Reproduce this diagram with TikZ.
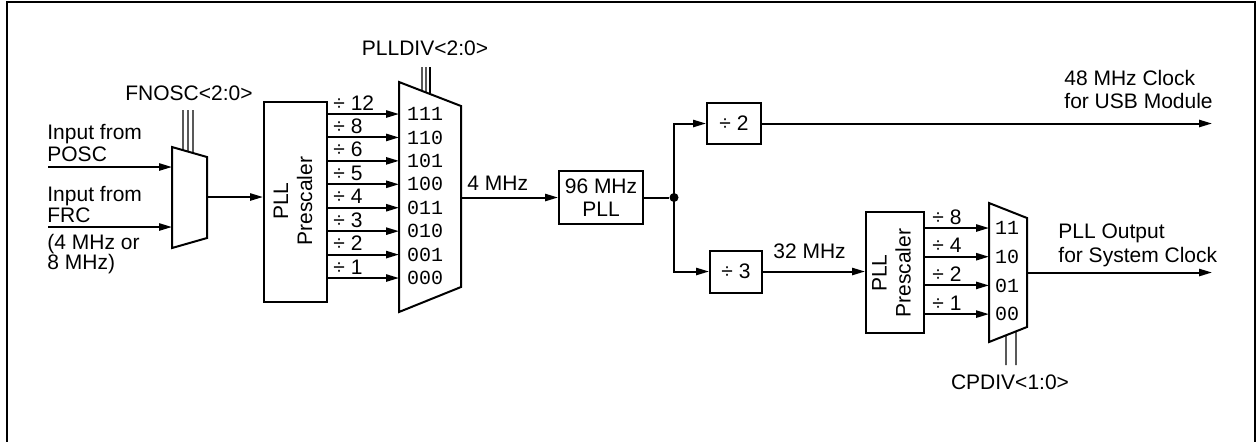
\documentclass[tikz,border=0pt]{standalone}
\usepackage{fontspec}
\setmainfont{Liberation Sans}
\setmonofont{Liberation Mono}
\usetikzlibrary{arrows.meta,positioning,calc}

\tikzset{
  every picture/.style={line join=miter},
  frame/.style={line width=1pt},
  blk/.style={draw,line width=1pt,inner sep=0pt,align=center,
    font=\fontsize{10.5}{11.5}\selectfont},
  mux/.style={draw,line width=1pt},
  sig/.style={-{Triangle[length=6.5pt,width=3.6pt]},line width=1pt},
  wire/.style={line width=1pt},
  selbus/.style={line width=.55pt},
  lab/.style={font=\fontsize{10.5}{11.5}\selectfont,inner sep=0pt},
  bits/.style={font=\ttfamily\fontsize{10}{10}\selectfont,inner sep=0pt},
  vlab/.style={font=\fontsize{10.5}{12}\selectfont,rotate=90,align=center,
    inner sep=0pt},
  joint/.style={circle,fill,inner sep=0pt,minimum size=4.5pt}
}

\begin{document}
\begin{tikzpicture}[x=.5pt,y=-.5pt]
  \useasboundingbox (0,0) rectangle (1256,441);
  \draw[frame] (7,445) -- (7,2) -- (1254.5,2) -- (1254.5,445);

  % Oscillator inputs and the FNOSC select mux.
  \node[lab,anchor=base west] (in1a) at (47,139) {Input from};
  \node[lab,anchor=base west] (in1b) at (47,161.5) {POSC};
  \node[lab,anchor=base west] (in2a) at (47,201) {Input from};
  \node[lab,anchor=base west] (in2b) at (47,222) {FRC};
  \node[lab,anchor=base west] (in2c) at (47,249) {(4 MHz or};
  \node[lab,anchor=base west] (in2d) at (47,269) {8 MHz)};
  \coordinate (f1) at (172,147); \coordinate (f2) at (207,157);
  \coordinate (f3) at (207,238); \coordinate (f4) at (172,248);
  \draw[mux] (f1) -- (f2) -- (f3) -- (f4) -- cycle;
  \coordinate (posc) at (48,167); \coordinate (frc) at (48,227);
  \coordinate (fout) at (207,197);
  \draw[sig] (posc) -- (posc -| f1);
  \draw[sig] (frc) -- (frc -| f1);
  \node[lab] (fnosc) at (189,93) {FNOSC<2:0>};
  \foreach \x in {183,188,193}
    \draw[selbus] (\x,110) -- ($(f1)!{(\x-172)/35}!(f2)$);

  % First prescaler feeding the PLLDIV mux.
  \node[blk,minimum width=31.5pt,minimum height=100pt] (pre1) at (295.5,202) {};
  \node[vlab] at (293,201) {PLL\\Prescaler};
  \draw[sig] (fout) -- (fout -| pre1.west);
  \coordinate (m1) at (399,82); \coordinate (m2) at (461,106);
  \coordinate (m3) at (461,287); \coordinate (m4) at (399,312);
  \draw[mux] (m1) -- (m2) -- (m3) -- (m4) -- cycle;
  \foreach \d/\b [count=\i from 0] in {12/111,8/110,6/101,5/100,4/011,3/010,2/001,1/000}{
    \pgfmathsetmacro\yy{114+23.43*\i}
    \coordinate (d\i) at (327,\yy);
    \draw[sig] (d\i) -- (d\i -| m1);
    \node[lab,anchor=base west] at (333,\yy-4) {÷ \d};
    \node[bits] at (425,\yy) {\b};
  }
  \node[lab] (plldiv) at (425,48) {PLLDIV<2:0>};
  \foreach \x in {422,426,430}
    \draw[selbus] (\x,67) -- ($(m1)!{(\x-399)/62}!(m2)$);

  % 96 MHz PLL and the two dividers.
  \coordinate (mout) at (461,197.5);
  \node[blk,minimum width=42pt,minimum height=26.5pt] (pll) at (601,197.5) {96 MHz\\PLL};
  \draw[sig] (mout) -- (pll);
  \node[lab,anchor=base west] at (467,190) {4 MHz};
  \node[joint] (split) at (674,197.5) {};
  \draw[wire] (pll) -- (split);
  \node[blk,minimum width=27pt,minimum height=20.5pt] (div2) at (734,123.5) {÷ 2};
  \node[blk,minimum width=26pt,minimum height=21pt] (div3) at (736,271.5) {÷ 3};
  \draw[sig] (split.center) |- (div2);
  \draw[sig] (split.center) |- (div3);

  % USB clock output.
  \coordinate (usb) at (1212,123.5);
  \draw[sig] (div2) -- (usb);
  \node[lab,anchor=base west] at (1064,85) {48 MHz Clock};
  \node[lab,anchor=base west] at (1064,108) {for USB Module};

  % Second prescaler and the CPDIV mux.
  \node[blk,minimum width=29pt,minimum height=60.5pt] (pre2) at (895,272.5) {};
  \node[vlab] at (891.5,273) {PLL\\Prescaler};
  \draw[sig] (div3) -- (div3 -| pre2.west);
  \node[lab,anchor=base west] at (773,258) {32 MHz};
  \coordinate (c1) at (989,203); \coordinate (c2) at (1027,218);
  \coordinate (c3) at (1027,327); \coordinate (c4) at (989,342);
  \draw[mux] (c1) -- (c2) -- (c3) -- (c4) -- cycle;
  \foreach \d/\b [count=\i from 0] in {8/11,4/10,2/01,1/00}{
    \pgfmathsetmacro\yy{228+28.7*\i}
    \coordinate (e\i) at (924,\yy);
    \draw[sig] (e\i) -- (e\i -| c1);
    \node[lab,anchor=base west] at (932,\yy-4) {÷ \d};
    \node[bits] at (1007,\yy) {\b};
  }
  \foreach \x in {1006,1016}
    \draw[selbus] (\x,365) -- ($(c4)!{(\x-989)/38}!(c3)$);
  \node[lab] (cpdiv) at (1010,382) {CPDIV<1:0>};
  \coordinate (cout) at (1027,272.5);
  \coordinate (sys) at (1212,272.5);
  \draw[sig] (cout) -- (sys);
  \node[lab,anchor=base west] at (1058,238) {PLL Output};
  \node[lab,anchor=base west] at (1058,262) {for System Clock};
\end{tikzpicture}
\end{document}
